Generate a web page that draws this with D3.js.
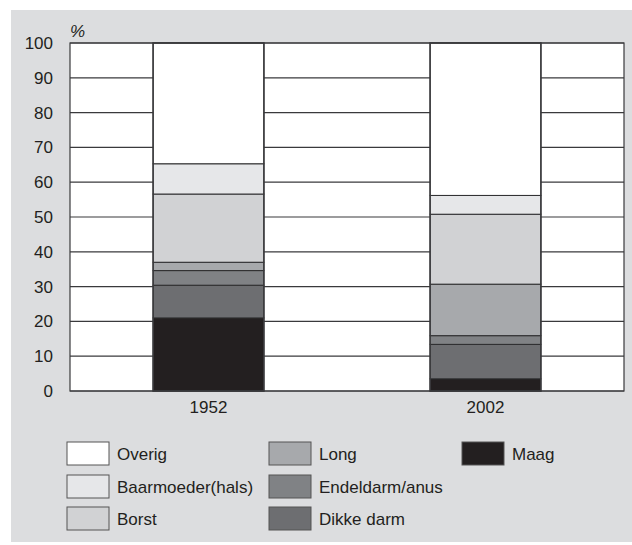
<!DOCTYPE html>
<html>
<head>
<meta charset="utf-8">
<script src="https://cdn.jsdelivr.net/npm/d3@7"></script>
<style>
  body { margin: 0; background: #fff; }
  text { font-family: "Liberation Sans", Arial, sans-serif; fill: #231f20; }
</style>
</head>
<body>
<svg id="chart" width="632" height="545"></svg>
<script>
// data (percentages per year)
var years = ["1952", "2002"];
var series = ["Maag", "Dikke darm", "Endeldarm/anus", "Long", "Borst", "Baarmoeder(hals)", "Overig"];
var maag = [21.0, 3.5];
var dikkeDarm = [9.4, 9.9];
var endeldarm = [4.2, 2.5];
var longV = [2.4, 14.8];
var borst = [19.6, 20.1];
var baarmoeder = [8.7, 5.4];
var overig = [34.7, 43.8];
var yTicks = [0, 10, 20, 30, 40, 50, 60, 70, 80, 90, 100];
var legendOrder = ["Overig", "Baarmoeder(hals)", "Borst", "Long", "Endeldarm/anus", "Dikke darm", "Maag"];

var colors = {
  "Overig": "#ffffff",
  "Baarmoeder(hals)": "#e6e7e9",
  "Borst": "#d1d2d4",
  "Long": "#a7a9ac",
  "Endeldarm/anus": "#808285",
  "Dikke darm": "#6d6e71",
  "Maag": "#231f20"
};

var rows = years.map(function(y, i) {
  return {
    year: y,
    "Maag": maag[i], "Dikke darm": dikkeDarm[i], "Endeldarm/anus": endeldarm[i],
    "Long": longV[i], "Borst": borst[i], "Baarmoeder(hals)": baarmoeder[i], "Overig": overig[i]
  };
});

var svg = d3.select("#chart");

// grey panel
svg.append("rect").attr("x", 11).attr("y", 10).attr("width", 621).attr("height", 532)
  .attr("fill", "#dcdddf");

var margin = {top: 43, left: 70, right: 624, bottom: 391};

var x = d3.scaleBand().domain(years).range([margin.left, margin.right])
  .paddingInner(0.6).paddingOuter(0.3);
var y = d3.scaleLinear().domain([0, 100]).range([margin.bottom, margin.top]);

// plot background
svg.append("rect").attr("x", margin.left).attr("y", margin.top)
  .attr("width", margin.right - margin.left).attr("height", margin.bottom - margin.top)
  .attr("fill", "#fff");

// gridlines
svg.append("g").selectAll("line").data(yTicks).enter().append("line")
  .attr("x1", margin.left).attr("x2", margin.right)
  .attr("y1", function(d) { return y(d); }).attr("y2", function(d) { return y(d); })
  .attr("stroke", "#3a3a3c").attr("stroke-width", 1.2);

// y axis (labels only)
var yAxis = svg.append("g").attr("transform", "translate(" + margin.left + ",0)")
  .call(d3.axisLeft(y).tickValues(yTicks).tickSize(0).tickPadding(17));
yAxis.select(".domain").remove();
yAxis.selectAll("text").style("font-size", "17px").attr("fill", "#231f20")
  .style("font-family", "Liberation Sans, Arial, sans-serif");

svg.append("text").attr("x", 70).attr("y", 37).text("%")
  .style("font-size", "17px").style("font-style", "italic");

// stacked bars
var stack = d3.stack().keys(series);
var layers = stack(rows);

var barG = svg.append("g");
layers.forEach(function(layer) {
  barG.selectAll(null).data(layer).enter().append("rect")
    .attr("x", function(d) { return x(d.data.year); })
    .attr("width", x.bandwidth())
    .attr("y", function(d) { return y(d[1]); })
    .attr("height", function(d) { return y(d[0]) - y(d[1]); })
    .attr("fill", colors[layer.key])
    .attr("stroke", "#2b2b2d").attr("stroke-width", 1);
});

// bar outlines
barG.selectAll(null).data(years).enter().append("rect")
  .attr("x", function(d) { return x(d); }).attr("width", x.bandwidth())
  .attr("y", y(100)).attr("height", y(0) - y(100))
  .attr("fill", "none").attr("stroke", "#3a3a3c").attr("stroke-width", 1.5);

// plot frame
svg.append("rect").attr("x", margin.left).attr("y", margin.top)
  .attr("width", margin.right - margin.left).attr("height", margin.bottom - margin.top)
  .attr("fill", "none").attr("stroke", "#3a3a3c").attr("stroke-width", 1.2);

// x axis labels
var xAxis = svg.append("g").attr("transform", "translate(0," + margin.bottom + ")")
  .call(d3.axisBottom(x).tickSize(0).tickPadding(10));
xAxis.select(".domain").remove();
xAxis.selectAll("text").style("font-size", "17px").attr("fill", "#231f20")
  .style("font-family", "Liberation Sans, Arial, sans-serif");

// legend, three columns filled top-down
var colX = [67, 269, 462];
var rowY = [442, 475, 507];
var legend = svg.append("g");
legendOrder.forEach(function(name, i) {
  var c = Math.floor(i / 3), r = i % 3;
  var g = legend.append("g").attr("transform", "translate(" + colX[c] + "," + rowY[r] + ")");
  g.append("rect").attr("width", 42).attr("height", 23)
    .attr("fill", colors[name]).attr("stroke", "#555").attr("stroke-width", 1);
  g.append("text").attr("x", 50).attr("y", 12).attr("dy", "0.35em")
    .style("font-size", "17px").text(name);
});
</script>
</body>
</html>
